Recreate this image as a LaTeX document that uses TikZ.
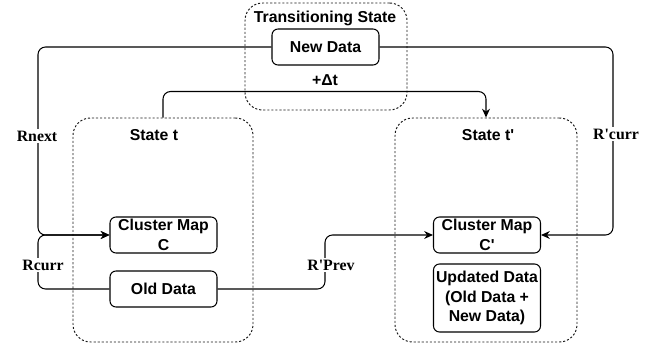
\documentclass[tikz,border=0pt]{standalone}
\usepackage{fontspec}
\setmainfont{Liberation Serif}
\setsansfont{Liberation Sans}
\usetikzlibrary{arrows.meta}

\begin{document}
\begin{tikzpicture}[
  box/.style={draw,rounded corners=0.12cm,line width=0.6pt,minimum width=2.14cm,minimum height=0.72cm,align=center,inner sep=1pt,font=\fontsize{9}{11}\selectfont\sffamily\bfseries},
  statebox/.style={draw=black!90,dash pattern=on 1.2pt off 1.1pt,rounded corners=0.35cm,line width=0.55pt},
  title/.style={font=\fontsize{9}{11}\selectfont\sffamily\bfseries},
  arr/.style={line width=0.6pt,rounded corners=0.15cm,-{Stealth[length=5pt,width=4.5pt]}},
  lbl/.style={fill=white,inner sep=1pt,font=\fontsize{9}{11}\selectfont\bfseries}
]
\useasboundingbox (0,0) rectangle (13.1,6.98);
%\draw[help lines] (0,0) grid (13,7);

% transitioning state
\node[statebox,minimum width=3.24cm,minimum height=2.14cm] (trans) at (6.52,5.85) {};
\node[title] (transtitle) at (6.5,6.62) {Transitioning State};
\node[box] (newdata) at (6.51,6.04) {New Data};
\node[title] (dt) at (6.5,5.38) {+Δt};

% state t and state t'
\node[statebox,minimum width=3.6cm,minimum height=4.48cm] (statet) at (3.26,2.38) {};
\node[title] (statettitle) at (3.08,4.28) {State t};
\node[statebox,minimum width=3.64cm,minimum height=4.48cm] (statet2) at (9.72,2.38) {};
\node[title] (statet2title) at (9.76,4.28) {State t\textquotesingle};

\node[box] (cmap1) at (3.27,2.28) {Cluster Map\\C};
\node[box] (old) at (3.27,1.2) {Old Data};
\node[box] (cmap2) at (9.74,2.28) {Cluster Map\\C\textquotesingle};
\node[box,minimum height=1.36cm] (upd) at (9.74,1.02) {Updated Data\\(Old Data +\\New Data)};

\coordinate (lj) at (0.76,2.28);
\coordinate (mj) at (6.5,2.28);
\coordinate (rj) at (12.26,2.28);

\draw[arr] (newdata.west) -| (lj) -- (cmap1.west);
\draw[arr] (old.west) -| (lj) -- (cmap1.west);
\draw[arr] (old.east) -| (mj) -- (cmap2.west);
\draw[arr] (newdata.east) -| (rj) -- (cmap2.east);
\draw[arr] (statet.north) -- ++(0,0.52) -| (statet2.north);

\node[lbl] (rnext) at (0.74,4.26) {Rnext};
\node[lbl] (rcurr) at (0.86,1.68) {Rcurr};
\node[lbl] (rprev) at (6.62,1.68) {R\textquotesingle Prev};
\node[lbl] (rcurr2) at (12.32,4.3) {R\textquotesingle curr};
\end{tikzpicture}
\end{document}
